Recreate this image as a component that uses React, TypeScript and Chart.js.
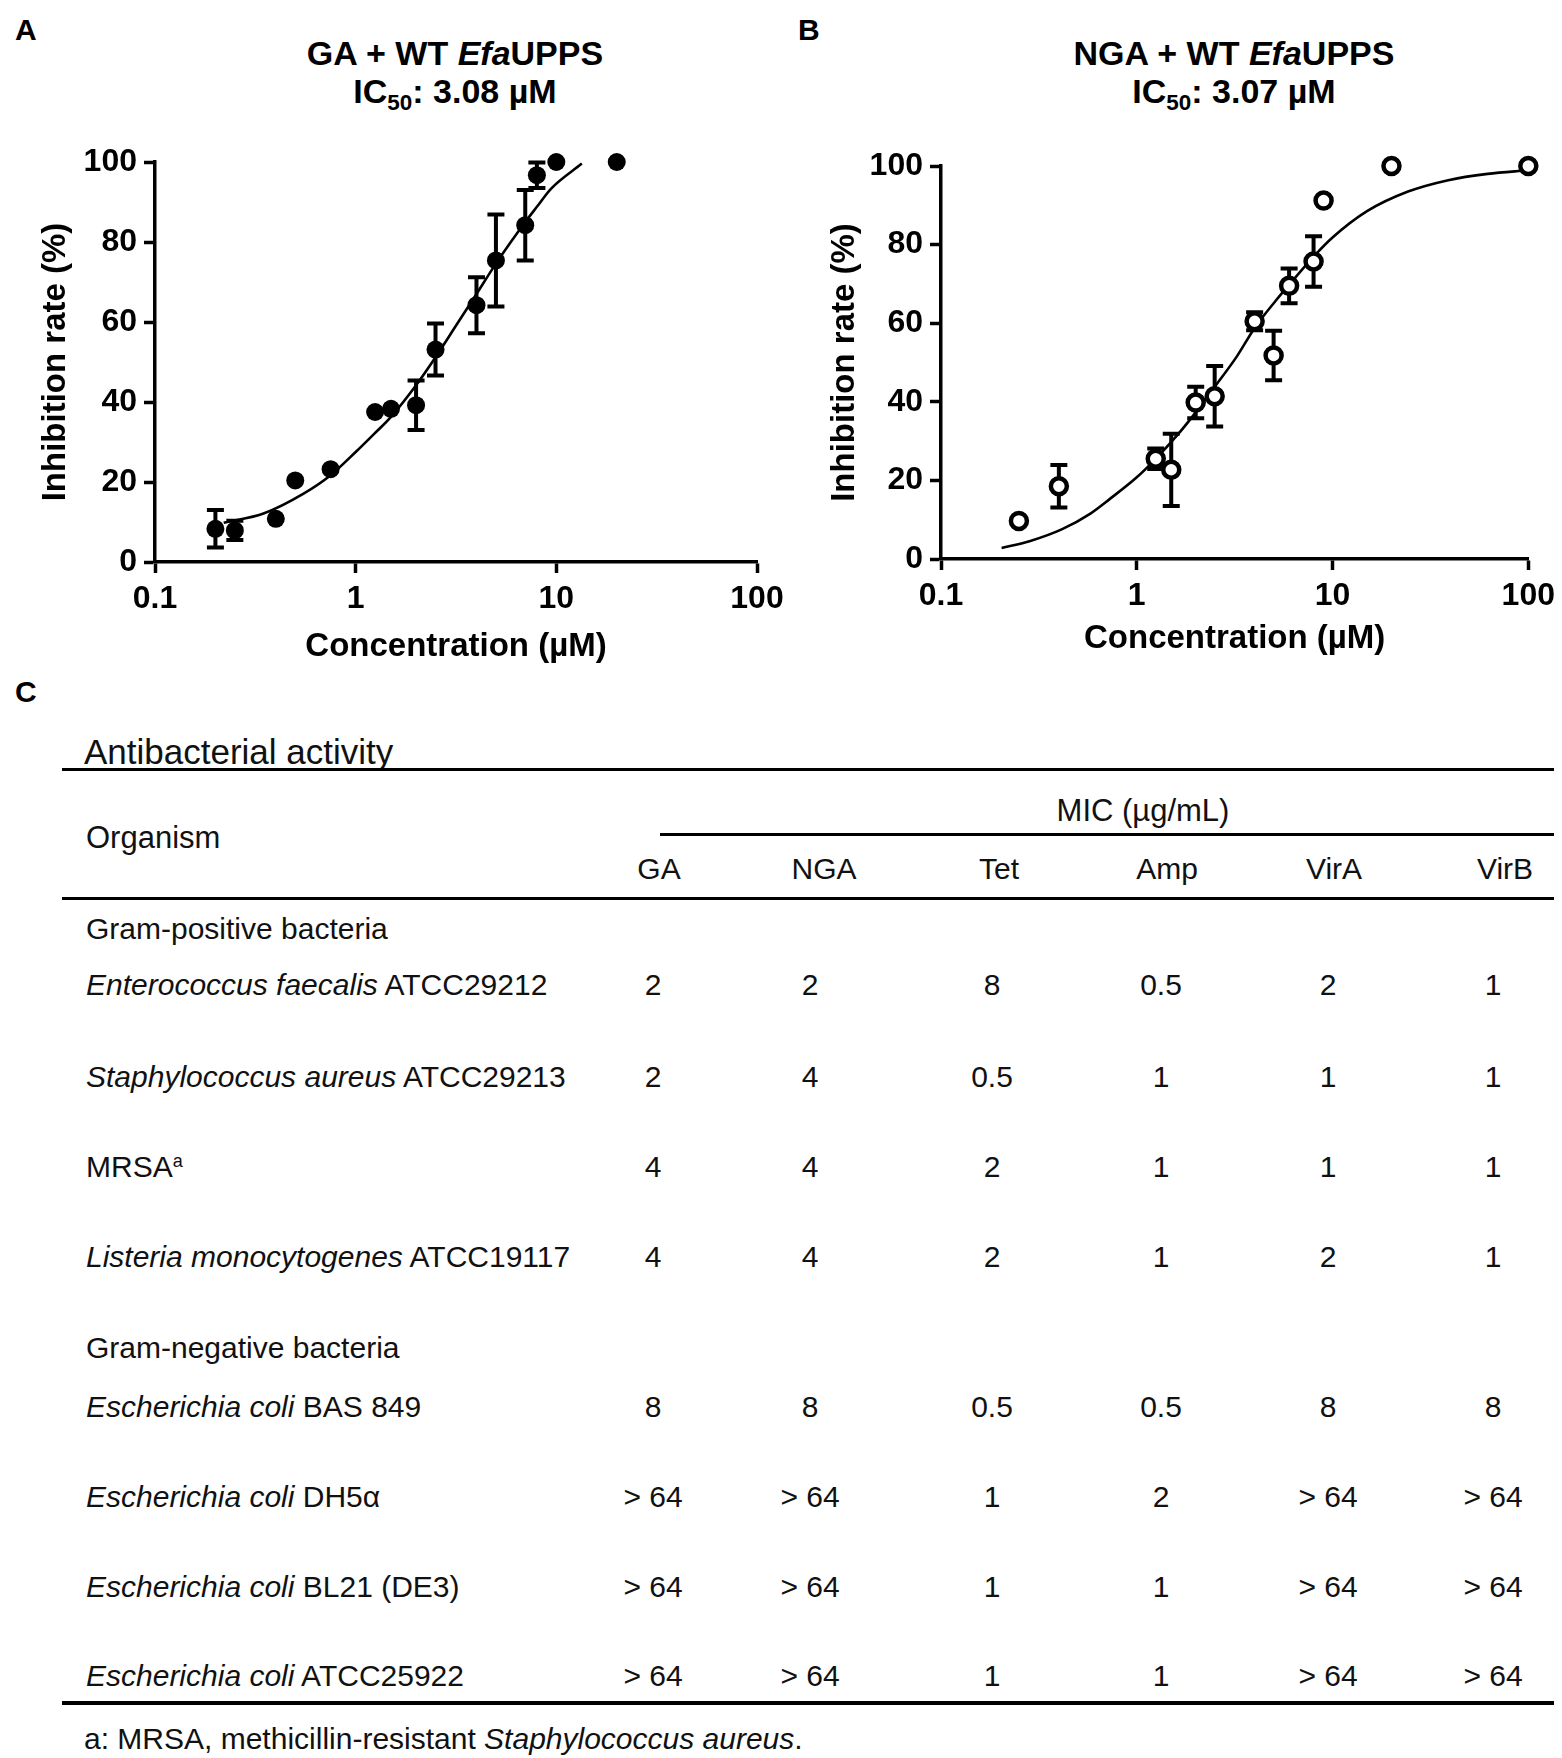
import React, { useEffect, useRef } from "react";
import { Chart, registerables } from "chart.js";

Chart.register(...registerables);

const FONT = "'Liberation Sans', Arial, Helvetica, sans-serif";

// ---------- Panel A / B axis ticks ----------
const X_TICKS = [0.1, 1, 10, 100];
const X_TICK_LABELS = ["0.1", "1", "10", "100"];
const Y_MIN = 0;
const Y_MAX = 100;
const Y_STEP = 20;

// ---------- Panel A: GA + WT EfaUPPS ----------
const GA_CONC = [0.2, 0.25, 0.4, 0.5, 0.75, 1.25, 1.5, 2, 2.5, 4, 5, 7, 8, 10, 20];
const GA_INHIB = [8.3, 7.9, 10.8, 20.4, 23.2, 37.5, 38.3, 39.2, 53.1, 64.2, 75.4, 84.2, 96.7, 100, 100];
const GA_ERR = [4.7, 2.4, 0, 0, 0, 0, 0, 6.2, 6.5, 7.0, 11.5, 8.8, 3.2, 0, 0];
const GA_FIT_X = [0.22, 0.35, 0.55, 0.75, 1.0, 1.24, 1.5, 2.0, 2.5, 3.2, 4.0, 5.0, 7.0, 8.0, 9.4, 13.4];
const GA_FIT_Y = [9.8, 12.2, 17.1, 21.7, 27.5, 32.1, 36.3, 44.2, 51.2, 59.5, 67.0, 74.6, 85.0, 88.8, 93.3, 99.6];

// ---------- Panel B: NGA + WT EfaUPPS ----------
const NGA_CONC = [0.25, 0.4, 1.25, 1.5, 2, 2.5, 4, 5, 6, 8, 9, 20, 100];
const NGA_INHIB = [9.7, 18.5, 25.5, 22.7, 39.8, 41.4, 60.5, 51.8, 69.5, 75.7, 91.2, 100, 100];
const NGA_ERR = [0, 5.4, 2.6, 9.2, 4.0, 7.7, 2.3, 6.3, 4.4, 6.4, 0, 0, 0];
const NGA_FIT_X = [0.204, 0.286, 0.416, 0.577, 0.729, 1.0, 1.25, 1.61, 2.0, 2.5, 3.24, 4.0, 5.1, 6.1, 8.2, 10, 15, 24.3, 39, 62, 100];
const NGA_FIT_Y = [2.8, 4.6, 7.6, 11.5, 15.3, 20.8, 25.5, 31.5, 37.3, 43.8, 51.5, 58.8, 65.6, 70.2, 77.5, 81.8, 88.5, 93.5, 96.4, 98.0, 98.9];

// ---------- Panel C: table ----------
const MIC_COLUMNS = ["GA", "NGA", "Tet", "Amp", "VirA", "VirB"];
const GP_SPECIES = ["Enterococcus faecalis", "Staphylococcus aureus", "", "Listeria monocytogenes"];
const GP_STRAIN = ["ATCC29212", "ATCC29213", "MRSA", "ATCC19117"];
const GN_SPECIES = ["Escherichia coli", "Escherichia coli", "Escherichia coli", "Escherichia coli"];
const GN_STRAIN = ["BAS 849", "DH5α", "BL21 (DE3)", "ATCC25922"];
const MIC_GA = ["2", "2", "4", "4", "8", "> 64", "> 64", "> 64"];
const MIC_NGA = ["2", "4", "4", "4", "8", "> 64", "> 64", "> 64"];
const MIC_TET = ["8", "0.5", "2", "2", "0.5", "1", "1", "1"];
const MIC_AMP = ["0.5", "1", "1", "1", "0.5", "2", "1", "1"];
const MIC_VIRA = ["2", "1", "1", "2", "8", "> 64", "> 64", "> 64"];
const MIC_VIRB = ["1", "1", "1", "1", "8", "> 64", "> 64", "> 64"];

// ---------- layout (page pixels) ----------
const ROW_Y = [985, 1077, 1167, 1257, 1407, 1497, 1587, 1676];
const COL_X_HEAD = [659, 824, 999, 1167, 1334, 1505];
const COL_X_VAL = [653, 810, 992, 1161, 1328, 1493];

const errorBarPlugin = {
  id: "errorBars",
  beforeDatasetsDraw(chart: any) {
    const ctx = chart.ctx;
    const xs = chart.scales.x;
    const ys = chart.scales.y;
    chart.data.datasets.forEach((ds: any) => {
      if (!ds.errors) return;
      ctx.save();
      ctx.strokeStyle = "#000";
      ctx.lineWidth = 4;
      ctx.lineCap = "butt";
      ds.data.forEach((p: any, i: number) => {
        const e = ds.errors[i];
        if (!e) return;
        const px = xs.getPixelForValue(p.x);
        const yt = ys.getPixelForValue(p.y + e);
        const yb = ys.getPixelForValue(p.y - e);
        ctx.beginPath();
        ctx.moveTo(px, yt);
        ctx.lineTo(px, yb);
        ctx.moveTo(px - 8.5, yt);
        ctx.lineTo(px + 8.5, yt);
        ctx.moveTo(px - 8.5, yb);
        ctx.lineTo(px + 8.5, yb);
        ctx.stroke();
      });
      ctx.restore();
    });
  },
};

type DoseProps = {
  pageLeft: number;
  width: number;
  height: number;
  area: { left: number; right: number; top: number; bottom: number };
  conc: number[];
  inhib: number[];
  err: number[];
  fitX: number[];
  fitY: number[];
  filled: boolean;
  yTitlePad: number;
  xHeight: number;
};

function DoseChart(props: DoseProps) {
  const ref = useRef<HTMLCanvasElement | null>(null);
  useEffect(() => {
    if (!ref.current) return;
    const { pageLeft, width, height, area, xHeight } = props;
    const yWidth = area.left - pageLeft;
    const padRight = width - (area.right - pageLeft);
    const padBottom = height - area.bottom - xHeight;
    const tickFont = { family: FONT, size: 32, weight: "bold" as const };
    const titleFont = { family: FONT, size: 33, weight: "bold" as const };
    const chart = new Chart(ref.current, {
      type: "scatter",
      data: {
        datasets: [
          {
            data: props.conc.map((x, i) => ({ x, y: props.inhib[i] })),
            errors: props.err,
            showLine: false,
            pointRadius: props.filled ? 9 : 8,
            pointBackgroundColor: props.filled ? "#000" : "#fff",
            pointBorderColor: "#000",
            pointBorderWidth: props.filled ? 0 : 4.5,
            clip: false,
          } as any,
          {
            data: props.fitX.map((x, i) => ({ x, y: props.fitY[i] })),
            showLine: true,
            pointRadius: 0,
            borderColor: "#000",
            borderWidth: 2.6,
            cubicInterpolationMode: "monotone",
            clip: false,
          } as any,
        ],
      },
      options: {
        animation: false,
        responsive: false,
        devicePixelRatio: 1,
        layout: { padding: { left: 0, top: area.top, right: padRight, bottom: padBottom } },
        plugins: { legend: { display: false }, tooltip: { enabled: false }, title: { display: false } },
        scales: {
          x: {
            type: "logarithmic",
            min: 0.1,
            max: 100,
            afterBuildTicks: (scale: any) => {
              scale.ticks = X_TICKS.map((v) => ({ value: v }));
            },
            afterFit: (scale: any) => {
              scale.height = xHeight;
            },
            ticks: {
              autoSkip: false,
              maxRotation: 0,
              padding: 7,
              color: "#000",
              font: tickFont,
              callback: (_v: any, i: number) => X_TICK_LABELS[i],
            },
            grid: { display: true, drawOnChartArea: false, drawTicks: true, tickLength: 11, tickWidth: 3.5, tickColor: "#000" },
            border: { display: true, color: "#000", width: 3.5 },
            title: {
              display: true,
              text: "Concentration (µM)",
              color: "#000",
              font: titleFont,
              padding: { top: 0, bottom: 0 },
            },
          },
          y: {
            type: "linear",
            min: Y_MIN,
            max: Y_MAX,
            afterFit: (scale: any) => {
              scale.width = yWidth;
            },
            ticks: { stepSize: Y_STEP, padding: 7, color: "#000", font: tickFont },
            grid: { display: true, drawOnChartArea: false, drawTicks: true, tickLength: 11, tickWidth: 3.5, tickColor: "#000" },
            border: { display: true, color: "#000", width: 3.5 },
            title: {
              display: true,
              text: "Inhibition rate (%)",
              color: "#000",
              font: titleFont,
              padding: { top: props.yTitlePad, bottom: 0 },
            },
          },
        },
      } as any,
      plugins: [errorBarPlugin],
    });
    return () => chart.destroy();
  }, []);
  return (
    <canvas
      ref={ref}
      width={props.width}
      height={props.height}
      style={{ position: "absolute", left: props.pageLeft, top: 0, width: props.width, height: props.height }}
    />
  );
}

const abs = (x: number, y: number, align: "left" | "center" = "left"): React.CSSProperties => ({
  position: "absolute",
  left: x,
  top: y,
  transform: align === "center" ? "translate(-50%, -50%)" : "translate(0, -50%)",
  whiteSpace: "nowrap",
  lineHeight: 1,
});

const sub: React.CSSProperties = { fontSize: "0.66em", verticalAlign: "-0.28em" };

function HLine({ x1, x2, y, w = 3 }: { x1: number; x2: number; y: number; w?: number }) {
  return <div style={{ position: "absolute", left: x1, top: y - w / 2, width: x2 - x1, height: w, background: "#000" }} />;
}

export default function App() {
  const micCols = [MIC_GA, MIC_NGA, MIC_TET, MIC_AMP, MIC_VIRA, MIC_VIRB];
  const species = [...GP_SPECIES, ...GN_SPECIES];
  const strains = [...GP_STRAIN, ...GN_STRAIN];
  const tableText: React.CSSProperties = { fontFamily: FONT, fontSize: 30, color: "#111" };
  const titleStyle = `bold 34px ${FONT}`;
  return (
    <div
      style={{
        position: "absolute",
        left: 0,
        top: 0,
        width: 1562,
        height: 1758,
        background: "#fff",
        fontFamily: FONT,
        color: "#000",
        overflow: "hidden",
      }}
    >
      {/* Panel labels */}
      <div style={{ ...abs(15, 30), font: `bold 30px ${FONT}` }}>A</div>
      <div style={{ ...abs(798, 30), font: `bold 30px ${FONT}` }}>B</div>
      <div style={{ ...abs(15, 692), font: `bold 30px ${FONT}` }}>C</div>

      {/* Panel titles */}
      <div style={{ ...abs(455, 53, "center"), font: titleStyle }}>
        GA + WT <i>Efa</i>UPPS
      </div>
      <div style={{ ...abs(455, 94, "center"), font: titleStyle }}>
        IC<span style={sub}>50</span>: 3.08 µM
      </div>
      <div style={{ ...abs(1234, 53, "center"), font: titleStyle }}>
        NGA + WT <i>Efa</i>UPPS
      </div>
      <div style={{ ...abs(1234, 94, "center"), font: titleStyle }}>
        IC<span style={sub}>50</span>: 3.07 µM
      </div>

      <DoseChart
        pageLeft={0}
        width={800}
        height={700}
        area={{ left: 155, right: 757, top: 162, bottom: 562 }}
        conc={GA_CONC}
        inhib={GA_INHIB}
        err={GA_ERR}
        fitX={GA_FIT_X}
        fitY={GA_FIT_Y}
        filled={true}
        yTitlePad={36}
        xHeight={105}
      />
      <DoseChart
        pageLeft={780}
        width={782}
        height={700}
        area={{ left: 941, right: 1529, top: 166, bottom: 559 }}
        conc={NGA_CONC}
        inhib={NGA_INHIB}
        err={NGA_ERR}
        fitX={NGA_FIT_X}
        fitY={NGA_FIT_Y}
        filled={false}
        yTitlePad={45}
        xHeight={100}
      />

      {/* Table */}
      <div style={{ ...abs(84, 751), ...tableText, fontSize: 35 }}>Antibacterial activity</div>
      <HLine x1={62} x2={1554} y={769} />
      <div style={{ ...abs(86, 837), ...tableText, fontSize: 31 }}>Organism</div>
      <div style={{ ...abs(1143, 810, "center"), ...tableText, fontSize: 31 }}>MIC (µg/mL)</div>
      <HLine x1={660} x2={1554} y={834} />
      {MIC_COLUMNS.map((c, i) => (
        <div key={c} style={{ ...abs(COL_X_HEAD[i], 869, "center"), ...tableText }}>
          {c}
        </div>
      ))}
      <HLine x1={62} x2={1554} y={898} />
      <div style={{ ...abs(86, 929), ...tableText }}>Gram-positive bacteria</div>
      <div style={{ ...abs(86, 1348), ...tableText }}>Gram-negative bacteria</div>
      {species.map((sp, r) => (
        <div key={"org" + r} style={{ ...abs(86, ROW_Y[r]), ...tableText }}>
          {sp ? (
            <>
              <i>{sp}</i> {strains[r]}
            </>
          ) : (
            <>
              {strains[r]}
              <span style={{ fontSize: "0.6em", verticalAlign: "0.55em" }}>a</span>
            </>
          )}
        </div>
      ))}
      {micCols.map((col, c) =>
        col.map((v, r) => (
          <div key={`v${c}-${r}`} style={{ ...abs(COL_X_VAL[c], ROW_Y[r], "center"), ...tableText }}>
            {v}
          </div>
        ))
      )}
      <HLine x1={62} x2={1554} y={1703} w={3.5} />
      <div style={{ ...abs(84, 1739), ...tableText }}>
        a: MRSA, methicillin-resistant <i>Staphylococcus aureus</i>.
      </div>
    </div>
  );
}
